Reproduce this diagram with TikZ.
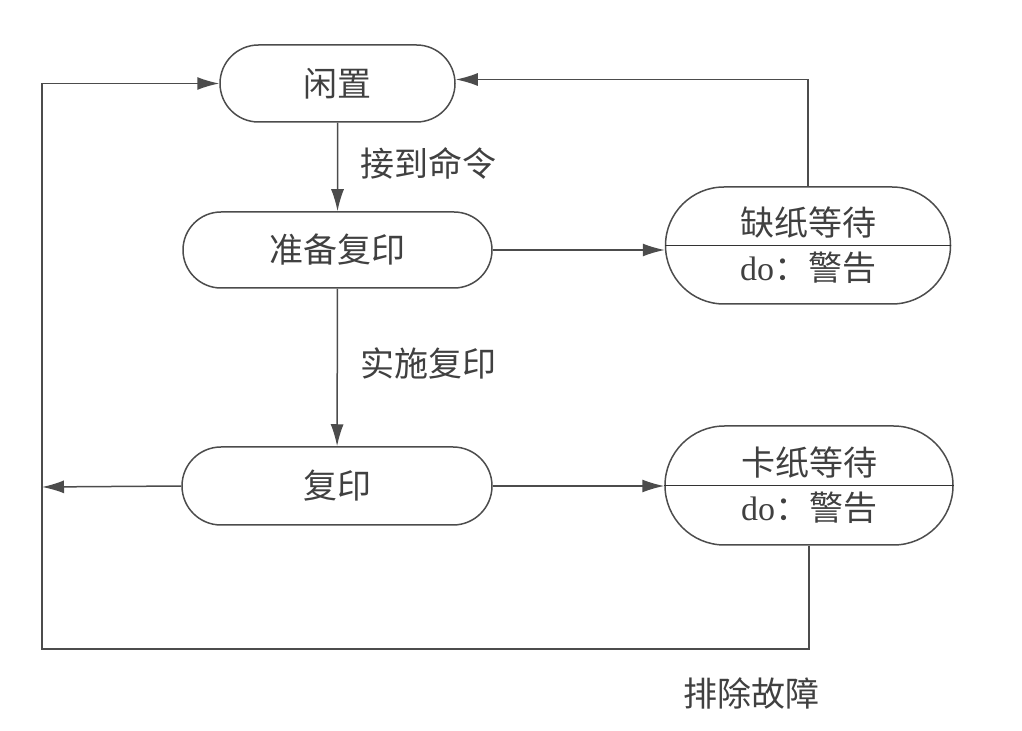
\documentclass[tikz,border=0pt]{standalone}
\usepackage{fontspec}
\setmainfont{Liberation Serif}
\newfontfamily\cjk{Noto Sans CJK SC}
\usetikzlibrary{arrows.meta,shapes.misc}

\begin{document}
\begin{tikzpicture}[x=0.5pt,y=-0.5pt,
    state/.style={draw=black!70,line width=0.75pt,shape=rounded rectangle,
      inner sep=0pt,text=black!75,align=center,
      font=\cjk\fontsize{17}{22.5}\selectfont},
    arr/.style={draw=black!70,line width=0.75pt,-{Latex[length=11pt,width=6.5pt]}},
    lbl/.style={text=black!75,font=\cjk\fontsize{17}{20}\selectfont}]
      \useasboundingbox (0,0) rectangle (1022,731) ;
      % states
      \node[state,minimum width=117.5pt,minimum height=38.5pt] %
      (idle) at (337.5,83.5) {闲置} ;
      \node[state,minimum width=154.5pt,minimum height=38pt] %
      (prep) at (337.5,250) {准备复印} ;
      \node[state,minimum width=155pt,minimum height=39pt] %
      (copy) at (337,486) {复印} ;
      \node[state,minimum width=142.5pt,minimum height=58.5pt] %
      (nopaper) at (808,245.5) {缺纸等待\\{\rmfamily do}：警告} ;
      \node[state,minimum width=144pt,minimum height=59.5pt] %
      (jam) at (809,485.5) {卡纸等待\\{\rmfamily do}：警告} ;
      \draw[black!80,line width=0.75pt] (nopaper.west)--(nopaper.east) ;
      \draw[black!80,line width=0.75pt] (jam.west)--(jam.east) ;
      % transitions
      \draw[arr] (idle)--(prep) node[lbl,midway,right=8pt,yshift=2pt]{接到命令} ;
      \draw[arr] (prep)--(copy) node[lbl,midway,right=8pt,yshift=2pt]{实施复印} ;
      \draw[arr] (prep.east)--(prep.east -| nopaper.west) ;
      \draw[arr] (copy.east)--(copy.east -| jam.west) ;
      \draw[arr] (nopaper.north) |- ([yshift=2pt]idle.east) ;
      \coordinate (leftend) at (42,487) ;
      \draw[arr] (copy.west)--(leftend) ;
      \coordinate (corner) at (42,649) ;
      \draw[arr] (jam.south) |- (corner) |- (idle.west) ;
      \node[lbl] (fix) at (751,693) {排除故障} ;
    \end{tikzpicture}
\end{document}
